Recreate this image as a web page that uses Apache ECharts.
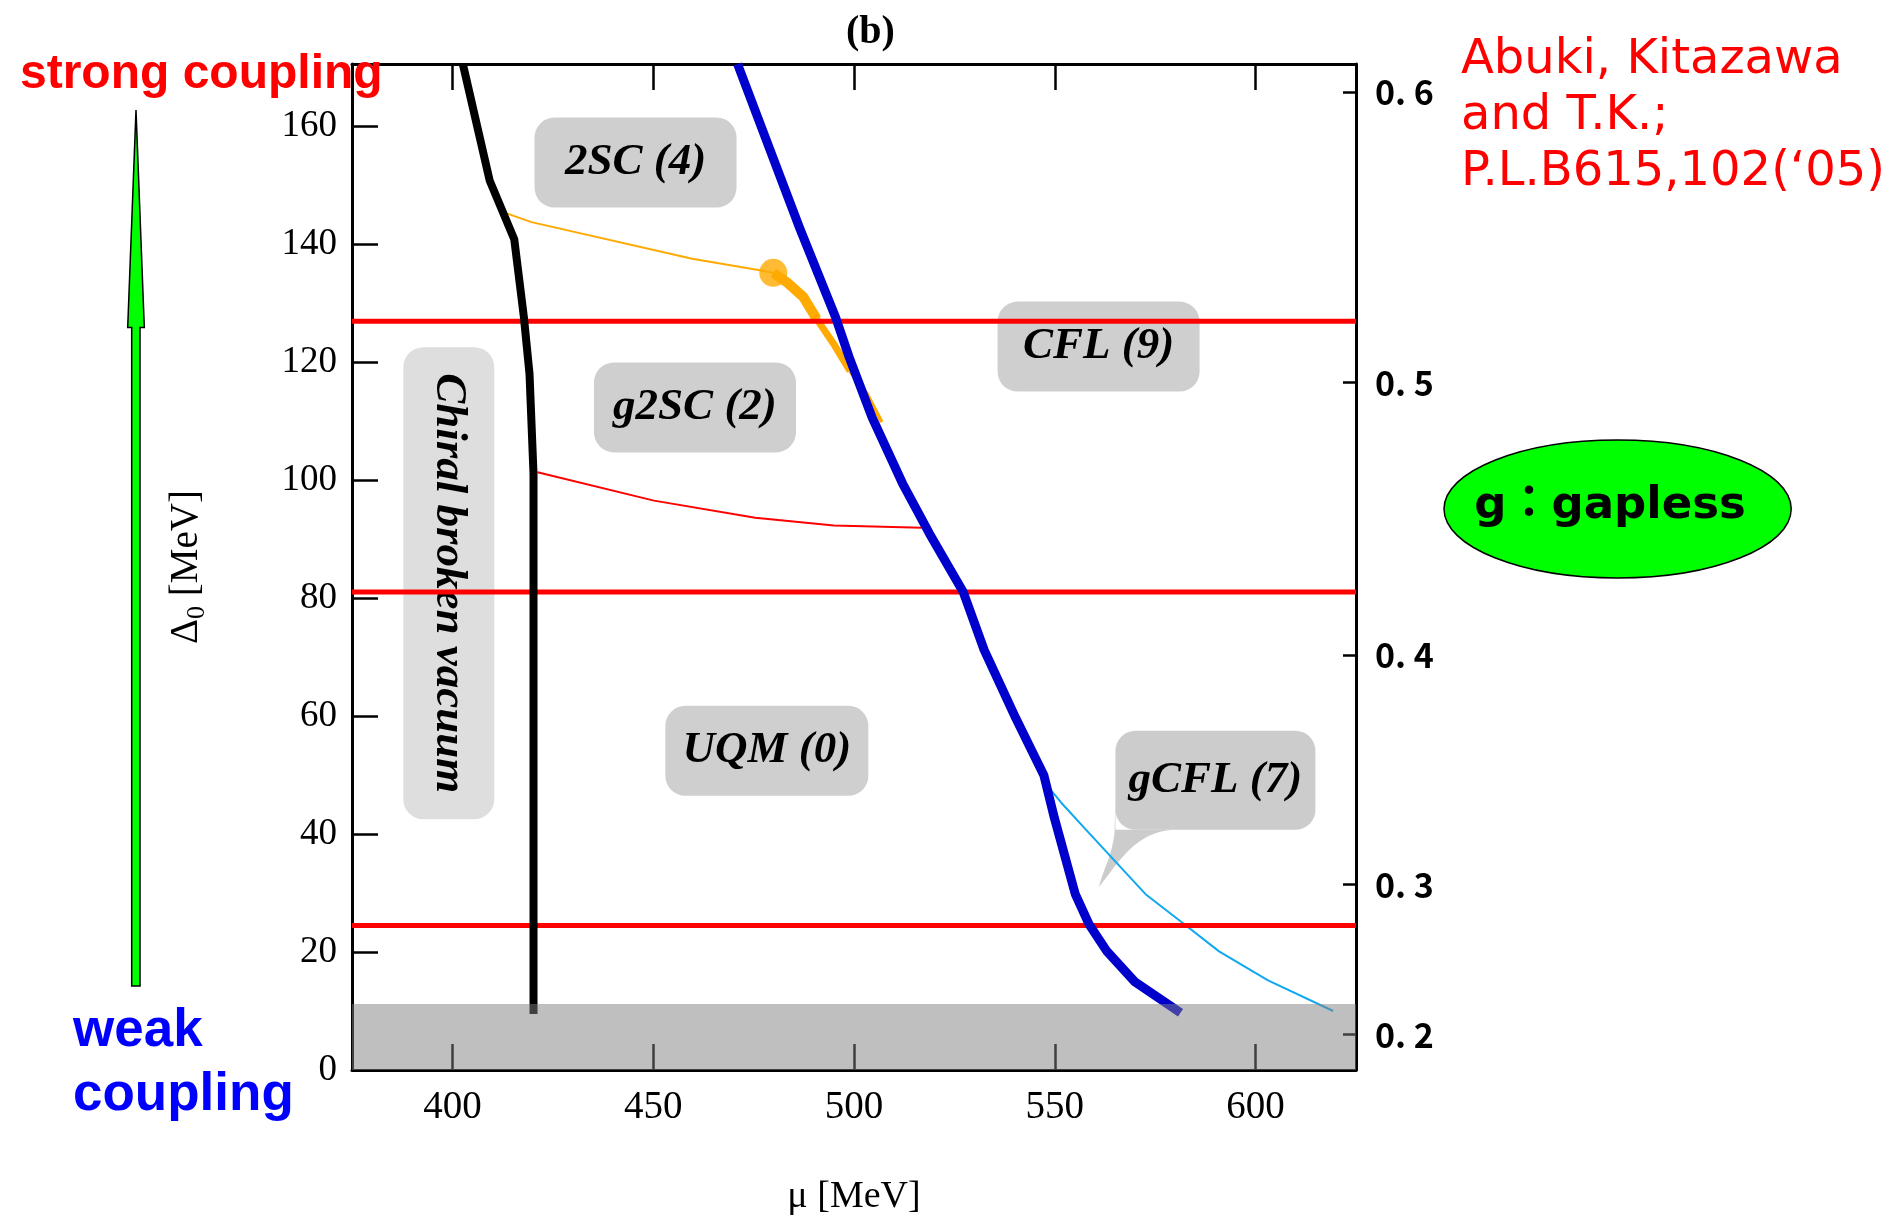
<!DOCTYPE html>
<html>
<head>
<meta charset="utf-8">
<title>Phase diagram (b)</title>
<script src="https://cdn.jsdelivr.net/npm/echarts@6/dist/echarts.min.js"></script>
<style>
  html, body { margin: 0; padding: 0; background: #fff; }
  #chart { width: 1897px; height: 1222px; }
</style>
</head>
<body>
<div id="chart"></div>
<script>
// ---- axis ticks ----
const muTicks = [400, 450, 500, 550, 600];
const deltaTicks = [0, 20, 40, 60, 80, 100, 120, 140, 160];
// right-hand coupling scale: label text and the Delta_0 value where each sits
const couplingTickLabels = ['0. 2', '0. 3', '0. 4', '0. 5', '0. 6'];
const couplingTickDelta = [6.0, 31.4, 70.3, 116.5, 165.7];

// ---- phase boundaries, [mu (MeV), Delta_0 (MeV)] ----
const chiralBoundary = [
  [402.6, 170.5], [409.3, 150.7], [415.4, 140.8], [417.8, 127.6],
  [419.2, 118.0], [420.2, 101.0], [420.2, 80.0], [420.2, 9.5]
];
const cflBoundary = [
  [471.0, 170.5], [477.0, 159.7], [486.4, 142.8], [495.4, 127.6],
  [498.8, 120.8], [504.5, 110.6], [512.1, 99.4], [518.8, 90.9],
  [527.2, 81.0], [532.4, 71.2], [540.3, 59.6], [547.3, 49.9],
  [549.9, 42.7], [555.1, 29.8], [558.6, 24.6], [563.0, 20.1],
  [570.0, 14.9], [581.3, 9.7]
];
const twoScBoundary = [
  [412.6, 145.4], [419.7, 143.7], [459.7, 137.5], [476.9, 135.5], [479.9, 135.1]
];
// first-order 2SC / g2SC line, from the critical point down to the CFL boundary
const twoScFirstOrder = [
  [479.9, 135.1], [483.3, 133.5], [487.4, 131.0], [490.7, 127.3],
  [494.9, 123.1], [499.0, 118.5], [503.2, 114.6], [506.9, 109.8]
];
const criticalPoint = [[479.9, 135.1]];
const g2scBoundary = [
  [421.2, 101.3], [450.2, 96.5], [475.4, 93.6], [495.0, 92.3], [516.9, 91.9]
];
const gcflBoundary = [
  [548.1, 48.2], [551.6, 45.3], [558.6, 40.1], [572.6, 29.8],
  [581.3, 25.2], [590.9, 20.1], [603.1, 15.2], [619.3, 10.0]
];

// coupling strengths marked across the diagram (Delta_0, MeV)
const couplingLevels = [24.5, 81.0, 126.9];
// weak-coupling region below this Delta_0 (MeV)
const weakBandTop = 11.2;

// ---- phase labels ----
const regionNames = ['2SC (4)', 'g2SC (2)', 'CFL (9)', 'UQM (0)', 'Chiral broken vacuum', 'gCFL (7)'];
const regionAnchors = [
  [445.6, 153.8], [460.4, 112.3], [560.9, 122.6], [478.3, 54.1], [399.1, 82.5], [590.0, 49.1]
];
const gcflPointer = [561.0, 31.0];

// ---- styling ----
const MU_MIN = 375, MU_MAX = 625, DELTA_MAX = 170.5;
const SERIF = '"Liberation Serif", "Times New Roman", serif';
const SANS = '"Liberation Sans", Arial, sans-serif';
const GOTHIC = '"DejaVu Sans", "Noto Sans CJK JP", sans-serif';
const BOX_SIZE = [[202, 90], [202, 90], [202, 90], [203, 90], [91, 472], [200, 99]];
const BOX_FILL = ['#cfcfcf', '#cfcfcf', '#cfcfcf', '#cfcfcf', '#dedede', '#cccccc'];
const VERTICAL_LABEL = 4, BUBBLE_LABEL = 5;
const LABEL_FONT = 'italic bold 45px ' + SERIF;

const chart = echarts.init(document.getElementById('chart'), null, { renderer: 'canvas' });

function lineSeries(data, color, width, z) {
  return {
    type: 'line', data: data, z: z,
    xAxisIndex: 0, yAxisIndex: 0,
    showSymbol: false, symbol: 'none', smooth: false,
    lineStyle: { color: color, width: width, join: 'round' },
    silent: true
  };
}

function renderRegion(params, api) {
  const i = params.dataIndex;
  const c = api.coord([api.value(0), api.value(1)]);
  const w = BOX_SIZE[i][0], h = BOX_SIZE[i][1];
  const x0 = c[0] - w / 2, y0 = c[1] - h / 2, y1 = y0 + h;
  const children = [{
    type: 'rect',
    shape: { x: x0, y: y0, width: w, height: h, r: 20 },
    style: { fill: BOX_FILL[i] }
  }];
  if (i === BUBBLE_LABEL) {
    // speech-bubble tail pointing into the gCFL region
    const t = api.coord(gcflPointer);
    const d = 'M' + x0 + ' ' + (y1 - 30) +
      ' L' + (x0 - 1) + ' ' + (y1 + 4) +
      ' C' + (x0 - 4) + ' ' + (y1 + 28) + ' ' + (t[0] + 5) + ' ' + (t[1] - 20) + ' ' + t[0] + ' ' + t[1] +
      ' C' + (t[0] + 20) + ' ' + (t[1] - 25) + ' ' + (x0 + 20) + ' ' + (y1 + 2) + ' ' + (x0 + 58) + ' ' + y1 +
      ' L' + x0 + ' ' + y1 + ' Z';
    children.push({ type: 'path', shape: { pathData: d }, style: { fill: BOX_FILL[i] } });
  }
  children.push({
    type: 'text',
    x: c[0], y: c[1],
    rotation: i === VERTICAL_LABEL ? -Math.PI / 2 : 0,
    style: {
      text: regionNames[i], fill: '#000', font: LABEL_FONT,
      align: 'center', verticalAlign: 'middle'
    }
  });
  return { type: 'group', children: children };
}

function renderBand(params, api) {
  const p0 = api.coord([api.value(0), api.value(3)]);
  const p1 = api.coord([api.value(2), api.value(1)]);
  return {
    type: 'rect',
    shape: { x: p0[0], y: p0[1], width: p1[0] - p0[0], height: p1[1] - p0[1] },
    style: { fill: 'rgba(128,128,128,0.5)' }
  };
}

const axisLineStyle = { color: '#000', width: 3 };
const tickStyle = { color: '#000', width: 2.5 };

const series = [
  {
    type: 'custom', name: 'phases', z: 1,
    xAxisIndex: 0, yAxisIndex: 0,
    data: regionAnchors,
    renderItem: renderRegion,
    silent: true
  }
];
series.push(lineSeries(g2scBoundary, '#ff0000', 2, 2));
series.push(lineSeries(twoScBoundary, '#ffaa00', 2, 2));
// the first-order line narrows as it runs away from the critical point
series.push(lineSeries(twoScFirstOrder.slice(0, 4), '#ffaa00', 10, 2));
series.push(lineSeries(twoScFirstOrder.slice(3, 6), '#ffaa00', 7, 2));
series.push(lineSeries(twoScFirstOrder.slice(5), '#ffaa00', 4, 2));
series.push(lineSeries(gcflBoundary, '#10a8f0', 2, 2));
couplingLevels.forEach(function (lv) {
  series.push(lineSeries([[MU_MIN, lv], [MU_MAX, lv]], '#ff0000', 5, 3));
});
series.push(lineSeries(chiralBoundary, '#000000', 8, 4));
series.push(lineSeries(cflBoundary, '#0000cc', 9, 4));
series.push({
  type: 'scatter', data: criticalPoint, z: 5,
  xAxisIndex: 0, yAxisIndex: 0,
  symbol: 'circle', symbolSize: 28,
  itemStyle: { color: '#ffaa00' }, silent: true
});
series.push({
  type: 'custom', name: 'weak coupling band', z: 10,
  xAxisIndex: 0, yAxisIndex: 0,
  data: [[MU_MIN, 0, MU_MAX, weakBandTop]],
  renderItem: renderBand, silent: true
});

const option = {
  animation: false,
  backgroundColor: '#ffffff',
  title: {
    text: '(b)', left: 841, top: 8,
    textStyle: { fontFamily: SERIF, fontSize: 40, fontWeight: 'bold', color: '#000' }
  },
  grid: { left: 352, right: 541, top: 64, bottom: 152, containLabel: false },
  xAxis: [
    {
      type: 'value', position: 'bottom', min: MU_MIN, max: MU_MAX,
      name: 'μ [MeV]', nameLocation: 'middle', nameGap: 108, nameMoveOverlap: false,
      nameTextStyle: { fontFamily: SERIF, fontSize: 38, color: '#000' },
      axisLine: { show: true, onZero: false, lineStyle: axisLineStyle },
      axisTick: { show: true, inside: true, length: 26, lineStyle: tickStyle, customValues: muTicks },
      axisLabel: { customValues: muTicks, fontFamily: SERIF, fontSize: 39, color: '#000', margin: 18 },
      splitLine: { show: false }
    },
    {
      type: 'value', position: 'top', min: MU_MIN, max: MU_MAX,
      axisLine: { show: true, onZero: false, lineStyle: axisLineStyle },
      axisTick: { show: true, inside: true, length: 26, lineStyle: tickStyle, customValues: muTicks },
      axisLabel: { show: false },
      splitLine: { show: false }
    }
  ],
  yAxis: [
    {
      type: 'value', position: 'left', min: 0, max: DELTA_MAX,
      name: '{m|Δ}{s|0}{m| [MeV]}', nameLocation: 'middle', nameRotate: 90, nameGap: 142,
      nameMoveOverlap: false,
      nameTextStyle: {
        color: '#000',
        rich: {
          m: { fontFamily: SERIF, fontSize: 39, color: '#000', lineHeight: 46, verticalAlign: 'middle' },
          s: { fontFamily: SERIF, fontSize: 26, color: '#000', lineHeight: 46, verticalAlign: 'bottom' }
        }
      },
      axisLine: { show: true, onZero: false, lineStyle: axisLineStyle },
      axisTick: { show: true, inside: true, length: 26, lineStyle: tickStyle, customValues: deltaTicks },
      axisLabel: { customValues: deltaTicks, fontFamily: SERIF, fontSize: 37, color: '#000', margin: 15 },
      splitLine: { show: false }
    },
    {
      type: 'value', position: 'right', min: 0, max: DELTA_MAX,
      axisLine: { show: true, onZero: false, lineStyle: axisLineStyle },
      axisTick: { show: true, inside: true, length: 13, lineStyle: tickStyle, customValues: couplingTickDelta },
      axisLabel: {
        customValues: couplingTickDelta,
        formatter: function (v) {
          let best = 0;
          couplingTickDelta.forEach(function (d, k) {
            if (Math.abs(d - v) < Math.abs(couplingTickDelta[best] - v)) best = k;
          });
          return couplingTickLabels[best];
        },
        fontFamily: '"Noto Sans CJK JP", sans-serif', fontWeight: 'bold', fontSize: 34,
        color: '#000', margin: 19
      },
      splitLine: { show: false }
    }
  ],
  graphic: [
    {
      type: 'polygon', z: 50,
      shape: { points: [[136, 110], [144.3, 327.5], [140, 327.5], [140, 986], [131.7, 986], [131.7, 327.5], [127.7, 327.5]] },
      style: { fill: '#00ff00', stroke: '#000', lineWidth: 1.5 }
    },
    {
      type: 'text', z: 100, x: 20, y: 75,
      style: { text: 'strong coupling', fill: '#ff0000', font: 'bold 48px ' + SANS,
               align: 'left', verticalAlign: 'middle', textAlign: 'left', textVerticalAlign: 'middle' }
    },
    {
      type: 'text', z: 100, x: 73, y: 1031,
      style: { text: 'weak', fill: '#0000ff', font: 'bold 53px ' + SANS,
               align: 'left', verticalAlign: 'middle', textAlign: 'left', textVerticalAlign: 'middle' }
    },
    {
      type: 'text', z: 100, x: 73, y: 1095,
      style: { text: 'coupling', fill: '#0000ff', font: 'bold 53px ' + SANS,
               align: 'left', verticalAlign: 'middle', textAlign: 'left', textVerticalAlign: 'middle' }
    },
    {
      type: 'text', z: 100, x: 1461, y: 33,
      style: { text: 'Abuki, Kitazawa\nand T.K.;\nP.L.B615,102(‘05)', fill: '#ff0000',
               font: '48px ' + GOTHIC, lineHeight: 56,
               align: 'left', verticalAlign: 'top', textAlign: 'left', textVerticalAlign: 'top' }
    },
    {
      type: 'ellipse', z: 50,
      shape: { cx: 1617.6, cy: 509, rx: 173.6, ry: 69 },
      style: { fill: '#00ff00', stroke: '#000', lineWidth: 1.5 }
    },
    {
      type: 'text', z: 100, x: 1610, y: 506,
      style: { text: 'g：gapless', fill: '#000', font: 'bold 45px ' + GOTHIC,
               align: 'center', verticalAlign: 'middle', textAlign: 'center', textVerticalAlign: 'middle' }
    }
  ],
  series: series
};

chart.setOption(option);
</script>
</body>
</html>
